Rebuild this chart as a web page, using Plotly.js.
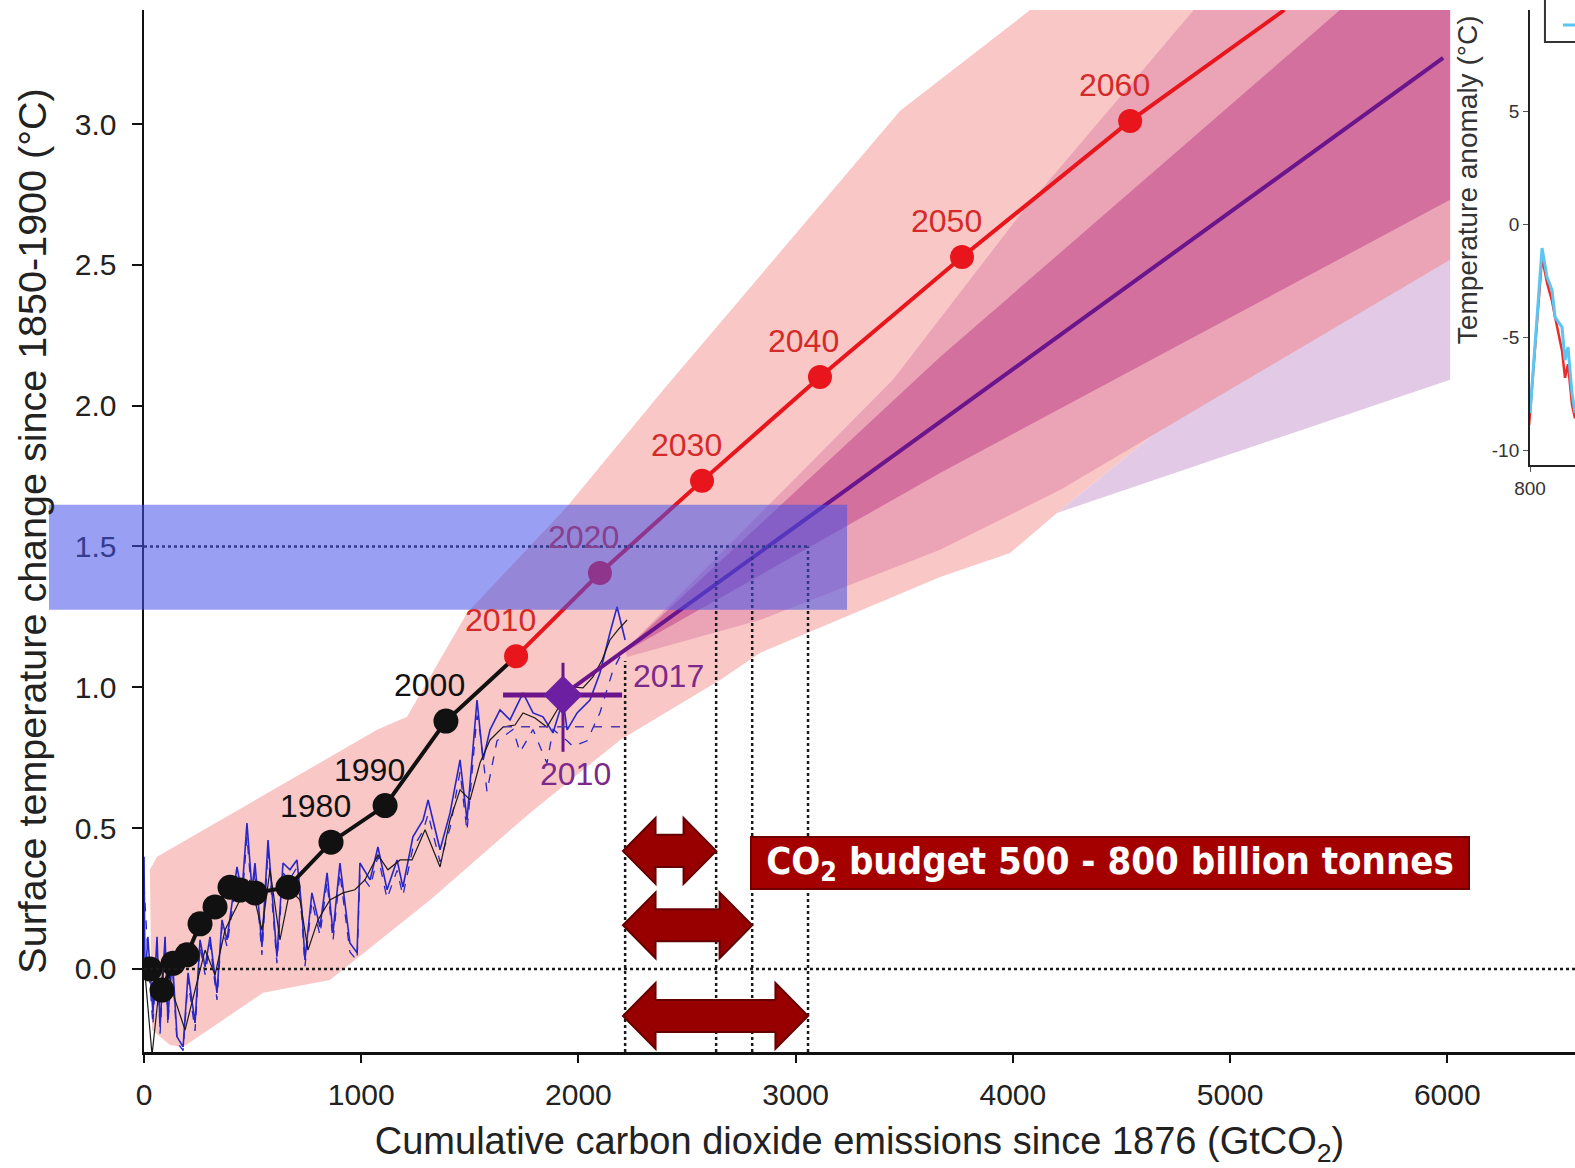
<!DOCTYPE html>
<html>
<head>
<meta charset="utf-8">
<script src="https://cdn.plot.ly/plotly-3.0.1.min.js"></script>
<style>html,body{margin:0;padding:0;background:#fff;}#chart{width:1575px;height:1168px;}</style>
</head>
<body>
<div id="chart"></div>
<script>
// ---------------- DATA ----------------
// axis ticks
const xTickVals = [0, 1000, 2000, 3000, 4000, 5000, 6000];
const xTickText = ['0', '1000', '2000', '3000', '4000', '5000', '6000'];
const yTickVals = [0, 0.5, 1.0, 1.5, 2.0, 2.5, 3.0];
const yTickText = ['0.0', '0.5', '1.0', '1.5', '2.0', '2.5', '3.0'];

// historical decadal means (black) 1880-2000
const blackYears = [1880, 1890, 1900, 1910, 1920, 1930, 1940, 1950, 1960, 1970, 1980, 1990, 2000];
const blackX = [28, 83, 134, 198, 258, 327, 396, 442, 511, 663, 861, 1110, 1390];
const blackY = [0.00, -0.075, 0.02, 0.05, 0.16, 0.22, 0.29, 0.28, 0.27, 0.29, 0.45, 0.58, 0.88];
const blackLabelYears = [1980, 1990, 2000];

// model pathway (red) 2010-2060
const redYears = [2010, 2020, 2030, 2040, 2050, 2060];
const redX = [1713, 2099, 2569, 3112, 3766, 4540];
const redY = [1.11, 1.406, 1.733, 2.102, 2.528, 3.011];
const redEndX = 5250, redEndY = 3.405;

// observed-based pathway (purple)
const purpleYears = [2010, 2017];
const purpleX = [1929, 2215, 5981];
const purpleY = [0.973, 1.133, 3.235];
const purple2010Range = {xlo: 1653, xhi: 2201, ylo: 0.771, yhi: 1.087};
const obsRefLevel = 0.86;  // dashed reference line

// uncertainty bands (polygons)
const bandAX = [60, 1073, 1211, 1487, 1947, 2390, 3481, 4075, 4100, 6013, 6013, 5060, 4203, 3987, 3665, 3448, 2836, 2652, 2192, 1777, 1317, 856, 548, 180, 120, 37, 27];
const bandAY = [0.398, 0.849, 0.895, 1.264, 1.641, 2.056, 3.047, 3.402, 3.45, 3.45, 2.518, 2.156, 1.619, 1.477, 1.392, 1.321, 1.122, 1.026, 0.813, 0.554, 0.245, -0.039, -0.085, -0.277, -0.270, -0.217, 0.352];
const bandDX = [4203, 5060, 6013, 6013];
const bandDY = [1.619, 2.156, 2.553, 2.092];
const bandBX = [2215, 3448, 4033, 4830, 4860, 6013, 6013, 4217, 3665, 2836, 2224];
const bandBY = [1.133, 2.092, 2.678, 3.402, 3.45, 3.45, 2.518, 1.701, 1.488, 1.239, 1.108];
const bandCX = [2215, 3665, 5502, 5553, 6013, 6013, 3665, 2215];
const bandCY = [1.133, 2.173, 3.402, 3.45, 3.45, 2.731, 1.761, 1.126];

// observational series
const obs1X = [0,5,18,41,60,74,97,110,129,152,180,203,235,258,281,304,336,359,382,428,451,474,497,511,543,571,612,640,672,704,727,741,773,810,843,870,902,948,981,994,1041,1077,1119,1165,1192,1238,1285,1308,1363,1409,1455,1487,1533,1561,1593,1639,1685,1745,1791,1837,1883,1929,1948,1994,2053,2099,2145,2178,2215];
const obs1Y = [0.398,-0.039,0.114,-0.156,0.114,-0.206,0.114,-0.181,0.057,-0.241,-0.277,-0.014,-0.192,0.103,0.007,0.114,-0.085,0.174,0.103,0.362,0.270,0.518,0.281,0.376,0.078,0.458,0.043,0.376,0.352,0.387,0.210,0.032,0.270,0.149,0.341,0.128,0.376,0.092,0.057,0.376,0.316,0.433,0.281,0.387,0.291,0.469,0.529,0.600,0.423,0.554,0.742,0.529,0.955,0.742,0.849,0.920,0.884,0.980,0.909,0.895,0.838,0.955,0.849,0.909,0.955,1.051,1.193,1.286,1.168];
const obs2X = [0,18,41,60,74,97,110,129,152,180,203,235,258,281,304,336,359,382,428,451,474,497,511,543,571,612,640,672,704,727,741,773,810,843,870,902,948,981,994,1041,1077,1119,1165,1192,1238,1285,1308,1363,1409,1455,1487,1533,1547,1579,1625,1699,1731,1791,1855,1883,1948,1975,2040,2099,2159,2205];
const obs2Y = [0.30,0.05,-0.20,0.08,-0.23,0.09,-0.20,0.03,-0.26,-0.29,-0.04,-0.22,0.08,-0.02,0.09,-0.11,0.15,0.08,0.33,0.24,0.47,0.25,0.35,0.05,0.42,0.02,0.34,0.32,0.36,0.18,0.01,0.24,0.12,0.31,0.10,0.34,0.06,0.03,0.34,0.29,0.40,0.25,0.35,0.26,0.43,0.49,0.55,0.38,0.50,0.70,0.49,0.90,0.84,0.63,0.81,0.85,0.77,0.85,0.73,0.85,0.81,0.79,0.81,0.91,1.06,1.13];
const obs3X = [5,37,64,97,143,189,235,281,327,373,442,488,543,580,626,672,718,755,801,856,916,971,1017,1077,1123,1179,1234,1294,1363,1409,1455,1501,1547,1593,1653,1708,1745,1800,1855,1929,1975,2021,2067,2109,2145,2182,2224];
const obs3Y = [-0.021,-0.305,-0.110,0.032,-0.110,-0.217,-0.075,0.067,-0.021,0.138,0.245,0.316,0.138,0.352,0.103,0.281,0.245,0.067,0.174,0.245,0.270,0.281,0.316,0.405,0.352,0.387,0.387,0.494,0.362,0.529,0.636,0.600,0.732,0.813,0.859,0.866,0.909,0.891,0.859,0.955,1.001,0.998,1.037,1.097,1.168,1.204,1.239];

// CO2 budget ranges (GtCO2)
const budgetStart = 2215;
const budgetEnds = [2634, 2800, 3057];
const budgetLevel = 1.5;
const budgetText = 'CO<sub>2</sub> budget 500 - 800 billion tonnes';

// inset (partial) panel
const insetX = [800, 812, 817, 822, 825, 832, 835, 838, 842, 845];
const insetBlue = [-8.36, -1.06, -2.35, -2.92, -4.12, -4.56, -6.02, -5.44, -7.48, -8.36];
const insetRedX = [799, 812, 817, 822, 825, 832, 835, 838, 842, 845];
const insetRed = [-8.9, -1.46, -2.6, -3.4, -4.1, -5.6, -6.8, -6.2, -8.0, -8.6];
const insetYTicks = [-10, -5, 0, 5];
const insetYText = ['-10', '-5', '0', '5'];

// ---------------- STYLE ----------------
const BASE_FONT = 'Liberation Sans, Arial, sans-serif';
const NARROW_FONT = 'Liberation Sans Narrow, DejaVu Sans Condensed, Arial Narrow, Liberation Sans, sans-serif';
const RED = '#e8161c', BLACK = '#111111', PURPLE = '#6a158c', BLUE = '#2727c8';
const X_RANGE = [0, 6588], Y_RANGE = [-0.295, 3.405];

function band(xs, ys, color) {
  return {x: xs, y: ys, type: 'scatter', mode: 'lines', fill: 'toself', fillcolor: color,
          line: {width: 0, color: color}, hoverinfo: 'skip'};
}

const traces = [
  band(bandAX, bandAY, '#f9c7c5'),
  band(bandDX, bandDY, '#e2c9e5'),
  band(bandBX, bandBY, '#eaa4b6'),
  band(bandCX, bandCY, '#d3709e'),
  {x: obs2X, y: obs2Y, type: 'scatter', mode: 'lines', line: {color: BLUE, width: 1.3, dash: 'dash'}},
  {x: obs1X, y: obs1Y, type: 'scatter', mode: 'lines', line: {color: BLUE, width: 1.6}},
  {x: obs3X, y: obs3Y, type: 'scatter', mode: 'lines', line: {color: '#1a1a1a', width: 1.2}},
  {x: blackX.concat([redX[0]]), y: blackY.concat([redY[0]]), type: 'scatter', mode: 'lines',
   line: {color: BLACK, width: 4}},
  {x: blackX, y: blackY, type: 'scatter', mode: 'markers', marker: {color: BLACK, size: 25}},
  {x: redX.concat([redEndX]), y: redY.concat([redEndY]), type: 'scatter', mode: 'lines',
   line: {color: RED, width: 4}},
  {x: redX, y: redY, type: 'scatter', mode: 'markers', marker: {color: RED, size: 24}},
  {x: purpleX, y: purpleY, type: 'scatter', mode: 'lines', line: {color: PURPLE, width: 4}},
  {x: [purpleX[0]], y: [purpleY[0]], type: 'scatter', mode: 'markers',
   marker: {color: '#6c1fa0', size: 30, symbol: 'diamond'},
   error_x: {type: 'data', symmetric: false, array: [purple2010Range.xhi - purpleX[0]],
             arrayminus: [purpleX[0] - purple2010Range.xlo], color: PURPLE, thickness: 5, width: 0},
   error_y: {type: 'data', symmetric: false, array: [purple2010Range.yhi - purpleY[0]],
             arrayminus: [purpleY[0] - purple2010Range.ylo], color: PURPLE, thickness: 3, width: 0}},
  {x: [purpleX[1]], y: [purpleY[1]], type: 'scatter', mode: 'markers',
   marker: {color: 'rgba(0,0,0,0)', size: 26, symbol: 'diamond-open', line: {color: PURPLE, width: 3}}},
  // inset
  {x: insetRedX, y: insetRed, xaxis: 'x2', yaxis: 'y2', type: 'scatter', mode: 'lines',
   line: {color: '#ee2a2a', width: 2.5}},
  {x: insetX, y: insetBlue, xaxis: 'x2', yaxis: 'y2', type: 'scatter', mode: 'lines',
   line: {color: '#5cc6f2', width: 3}}
];

// ---------------- SHAPES ----------------
const shapes = [];
const dotLine = {color: '#1a1a1a', width: 2.5, dash: 'dot'};
// zero line
shapes.push({type: 'line', xref: 'paper', yref: 'y', x0: 0, x1: 1, y0: 0, y1: 0, line: dotLine, layer: 'above'});
// 1.5 level
shapes.push({type: 'line', xref: 'x', yref: 'y', x0: 0, x1: budgetEnds[budgetEnds.length - 1],
             y0: budgetLevel, y1: budgetLevel, line: dotLine, layer: 'above'});
// verticals
shapes.push({type: 'line', xref: 'x', yref: 'y', x0: budgetStart, x1: budgetStart,
             y0: Y_RANGE[0], y1: purpleY[1] - 0.04, line: dotLine, layer: 'above'});
budgetEnds.forEach(function (e) {
  shapes.push({type: 'line', xref: 'x', yref: 'y', x0: e, x1: e, y0: Y_RANGE[0], y1: budgetLevel,
               line: dotLine, layer: 'above'});
});
// dashed observed reference
shapes.push({type: 'line', xref: 'x', yref: 'y', x0: purple2010Range.xlo, x1: budgetStart,
             y0: obsRefLevel, y1: obsRefLevel, line: {color: '#4b3aa8', width: 1.5, dash: 'dash'}, layer: 'above'});

// double-headed arrows for budget ranges
const arrowRows = [0.419, 0.155, -0.167];
const HEAD_DX = 150, HEAD_DY = 0.117, SHAFT_DY = 0.057;
budgetEnds.forEach(function (e, i) {
  const x0 = budgetStart - 10, x1 = e, yc = arrowRows[i];
  const p = [[x0, yc], [x0 + HEAD_DX, yc + HEAD_DY], [x0 + HEAD_DX, yc + SHAFT_DY], [x1 - HEAD_DX, yc + SHAFT_DY],
             [x1 - HEAD_DX, yc + HEAD_DY], [x1, yc], [x1 - HEAD_DX, yc - HEAD_DY], [x1 - HEAD_DX, yc - SHAFT_DY],
             [x0 + HEAD_DX, yc - SHAFT_DY], [x0 + HEAD_DX, yc - HEAD_DY]];
  const path = 'M' + p.map(function (q) { return q[0] + ',' + q[1]; }).join(' L') + ' Z';
  shapes.push({type: 'path', xref: 'x', yref: 'y', path: path, fillcolor: '#980000',
               line: {color: '#650000', width: 2}, layer: 'above'});
});

// 1.5 °C highlight rectangle (semi-transparent blue)
shapes.push({type: 'rect', xref: 'paper', yref: 'y', x0: -0.0664, x1: 0.4913, y0: 1.275, y1: 1.648,
             fillcolor: 'rgba(70,80,232,0.55)', line: {width: 0}, layer: 'above'});

// inset legend frame fragment
shapes.push({type: 'rect', xref: 'paper', yref: 'paper', x0: 0.979, x1: 1.06, y0: 0.9693, y1: 1.03,
             line: {color: '#333', width: 2}, fillcolor: 'rgba(255,255,255,0)', layer: 'above'});
shapes.push({type: 'line', xref: 'paper', yref: 'paper', x0: 0.9916, x1: 1.03, y0: 0.9856, y1: 0.9856,
             line: {color: '#5cc6f2', width: 3}, layer: 'above'});

// ---------------- ANNOTATIONS ----------------
const annotations = [];
function yearLabel(x, y, txt, color, dx, dy) {
  annotations.push({x: x, y: y, xref: 'x', yref: 'y', text: txt, showarrow: false,
                    xanchor: 'center', yanchor: 'middle',
                    xshift: dx, yshift: dy, font: {family: BASE_FONT, size: 32, color: color}});
}
redYears.forEach(function (yr, i) {
  // 2020 label sits under the translucent blue band, so it appears tinted
  yearLabel(redX[i], redY[i], String(yr), yr === 2020 ? '#85408f' : '#d42a2a', -16, 36);
});
blackYears.forEach(function (yr, i) {
  if (blackLabelYears.indexOf(yr) >= 0) yearLabel(blackX[i], blackY[i], String(yr), '#111', -16, 36);
});
yearLabel(purpleX[0], purpleY[0], String(purpleYears[0]), '#7b2a8c', 12, -79);
yearLabel(purpleX[1], purpleY[1], String(purpleYears[1]), '#7b2a8c', 43, -26);

annotations.push({xref: 'paper', yref: 'paper', x: 0.6754, y: 0.1814, xanchor: 'center', yanchor: 'middle',
  showarrow: false,
  text: '<b>' + budgetText + '</b>', width: 716, height: 50, bgcolor: '#a50000',
  bordercolor: '#700000', borderwidth: 2, borderpad: 0,
  font: {family: NARROW_FONT, size: 38, color: '#ffffff'}});

annotations.push({xref: 'paper', yref: 'paper', x: 0.9245, y: 0.6778, xanchor: 'center', yanchor: 'bottom',
  text: 'Temperature anomaly (°C)', textangle: -90, showarrow: false,
  font: {family: BASE_FONT, size: 28, color: '#333'}});

// ---------------- LAYOUT ----------------
const layout = {
  width: 1575, height: 1168,
  margin: {l: 144, r: 0, t: 10, b: 116, pad: 0},
  paper_bgcolor: '#ffffff', plot_bgcolor: 'rgba(0,0,0,0)',
  showlegend: false,
  font: {family: BASE_FONT, color: '#222'},
  xaxis: {domain: [0, 1], range: X_RANGE, tickvals: xTickVals, ticktext: xTickText,
    ticks: 'outside', ticklen: 8, tickwidth: 2, tickcolor: '#111', ticklabelstandoff: 6,
    showline: true, linewidth: 2.5, linecolor: '#111', showgrid: false, zeroline: false,
    tickfont: {size: 30, color: '#222'},
    title: {text: 'Cumulative carbon dioxide emissions since 1876 (GtCO<sub>2</sub>)',
            font: {size: 38, color: '#222'}, standoff: 18}},
  yaxis: {domain: [0, 1], range: Y_RANGE, tickvals: yTickVals, ticktext: yTickText,
    ticks: 'outside', ticklen: 10, tickwidth: 2, tickcolor: '#111', ticklabelstandoff: 9,
    showline: true, linewidth: 2.5, linecolor: '#111', showgrid: false, zeroline: false,
    tickfont: {size: 30, color: '#222'},
    title: {text: 'Surface temperature change since 1850-1900 (°C)', font: {size: 39.5, color: '#222'}, standoff: 16}},
  xaxis2: {anchor: 'y2', domain: [0.9686, 1], range: [800, 845], tickvals: [800], ticktext: ['800'],
    ticks: 'outside', ticklen: 5, tickcolor: '#555', showline: true, linecolor: '#222', linewidth: 2,
    showgrid: false, zeroline: false, tickfont: {size: 19, color: '#333'}},
  yaxis2: {anchor: 'x2', domain: [0.5633, 1], range: [-10.66, 9.47], tickvals: insetYTicks, ticktext: insetYText,
    ticks: 'outside', ticklen: 5, tickcolor: '#555', showline: true, linecolor: '#222', linewidth: 2,
    showgrid: false, zeroline: false, tickfont: {size: 19, color: '#333'}},
  shapes: shapes,
  annotations: annotations
};

Plotly.newPlot('chart', traces, layout, {displayModeBar: false, staticPlot: true});
</script>
</body>
</html>
